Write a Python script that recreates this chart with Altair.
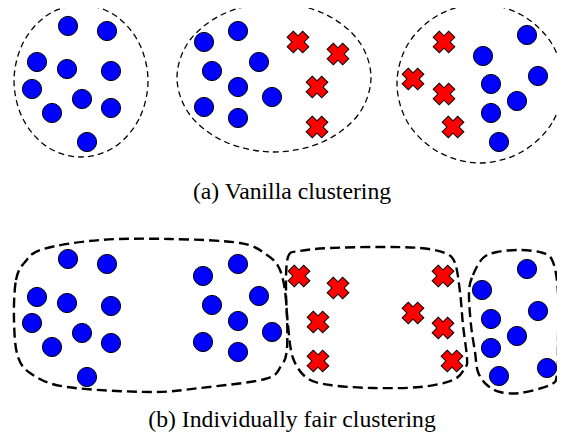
import altair as alt
import pandas as pd

# ---- blue circles (pixel positions) ----
blue_x = [68, 107, 37, 67, 111, 32, 82, 52, 111, 87,
          238, 204, 259, 212, 238, 272, 204, 238,
          527, 483, 538, 491, 517, 491, 499,
          68, 107, 37, 67, 111, 32, 82, 52, 111, 87,
          238, 203, 259, 212, 238, 272, 203, 238,
          527, 482, 538, 491, 517, 491, 547, 499]
blue_y = [26, 31, 62, 69, 71, 89, 99, 113, 108, 142,
          31, 42, 62, 71, 87, 97, 107, 118,
          35, 56, 76, 84, 101, 113, 142,
          259, 264, 297, 303, 306, 323, 333, 347, 343, 377,
          264, 276, 296, 305, 321, 332, 342, 352,
          269, 290, 311, 319, 336, 348, 368, 376]

# ---- red crosses ----
red_x = [298, 338, 317, 317, 444, 413, 444, 453,
         299, 338, 318, 318, 443, 413, 443, 452]
red_y = [42, 54, 87, 127, 42, 79, 94, 127,
         276, 288, 322, 361, 276, 313, 328, 361]

# ---- cluster outlines, panel (a) ----
a1_x = [148, 139, 114.5, 81, 47.5, 23, 14, 23, 47.5, 81, 114.5, 139]
a1_y = [81, 119, 147, 157, 147, 119, 81, 43, 15, 5, 15, 43]
a2_x = [371, 358, 322.5, 274, 225.5, 190, 177, 190, 225.5, 274, 322.5, 358]
a2_y = [77.5, 115, 142, 152, 142, 115, 77.5, 40, 13, 3, 13, 40]
a3_x = [563, 552, 521.5, 480, 438.5, 408, 397, 408, 438.5, 480, 521.5, 552]
a3_y = [83.5, 123, 152, 163, 152, 123, 83.5, 44, 15, 4, 15, 44]

# ---- cluster outlines, panel (b) ----
b1_x = [14, 16, 25, 43, 100, 170, 240, 267, 280, 286, 287, 281, 265, 200, 150, 67, 33, 18]
b1_y = [320, 280, 262, 249, 240, 239, 243, 255, 270, 300, 348, 366, 379, 388, 392, 387, 375, 357]
b2_x = [286, 288, 300, 330, 380, 420, 445, 455, 460, 463, 467, 465, 453, 420, 373, 330, 307, 293, 288]
b2_y = [292, 257, 251, 248, 247, 248, 253, 263, 292, 325, 358, 368, 380, 387, 388, 385, 378, 358, 325]
b3_x = [469, 473, 483, 497, 520, 543, 553, 558, 558, 557, 550, 520, 500, 487, 478, 475, 471]
b3_y = [292, 275, 258, 252, 250, 253, 262, 292, 342, 375, 385, 393, 392, 385, 372, 352, 325]

# ---- captions ----
cap_text = ["(a) Vanilla clustering", "(b) Individually fair clustering"]
cap_x = [292, 292]
cap_y = [199, 427]


def outline_df(groups):
    rows = []
    for gid, (xs, ys) in enumerate(groups):
        for i, (x, y) in enumerate(zip(xs, ys)):
            rows.append({"g": gid, "i": i, "x": x, "y": y})
    return pd.DataFrame(rows)


out_a = outline_df([(a1_x, a1_y), (a2_x, a2_y), (a3_x, a3_y)])
out_b = outline_df([(b1_x, b1_y), (b2_x, b2_y), (b3_x, b3_y)])
blue = pd.DataFrame({"x": blue_x, "y": blue_y})
red = pd.DataFrame({"x": red_x, "y": red_y})
caps = pd.DataFrame({"t": cap_text, "x": cap_x, "y": cap_y})

X = alt.X("x:Q", scale=alt.Scale(domain=[8, 557], nice=False, zero=False), axis=None)
Y = alt.Y("y:Q", scale=alt.Scale(domain=[8, 433], nice=False, zero=False, reverse=True), axis=None)

lines_a = alt.Chart(out_a).mark_line(
    interpolate="cardinal-closed", color="black", strokeWidth=1.3, strokeDash=[6, 4]
).encode(x=X, y=Y, detail="g:N", order="i:Q")

lines_b = alt.Chart(out_b).mark_line(
    interpolate="cardinal-closed", color="black", strokeWidth=2.4, strokeDash=[10, 5]
).encode(x=X, y=Y, detail="g:N", order="i:Q")

circles = alt.Chart(blue).mark_point(
    shape="circle", fill="#0000ff", fillOpacity=1, stroke="black", strokeWidth=1,
    opacity=1, size=370
).encode(x=X, y=Y)

crosses = alt.Chart(red).mark_point(
    shape="cross", angle=45, fill="#ff0000", fillOpacity=1, stroke="black",
    strokeWidth=1, opacity=1, size=480
).encode(x=X, y=Y)

text = alt.Chart(caps).mark_text(
    font="Liberation Serif", fontSize=23.7, color="black", baseline="alphabetic", align="center"
).encode(x=X, y=Y, text="t:N")

chart = alt.layer(lines_a, lines_b, circles, crosses, text).properties(
    width=549, height=425, padding=0, autosize=alt.AutoSizeParams(type="none")
).configure_view(stroke=None)

chart.save("out.html", embed_options={"renderer": "svg", "actions": False})
